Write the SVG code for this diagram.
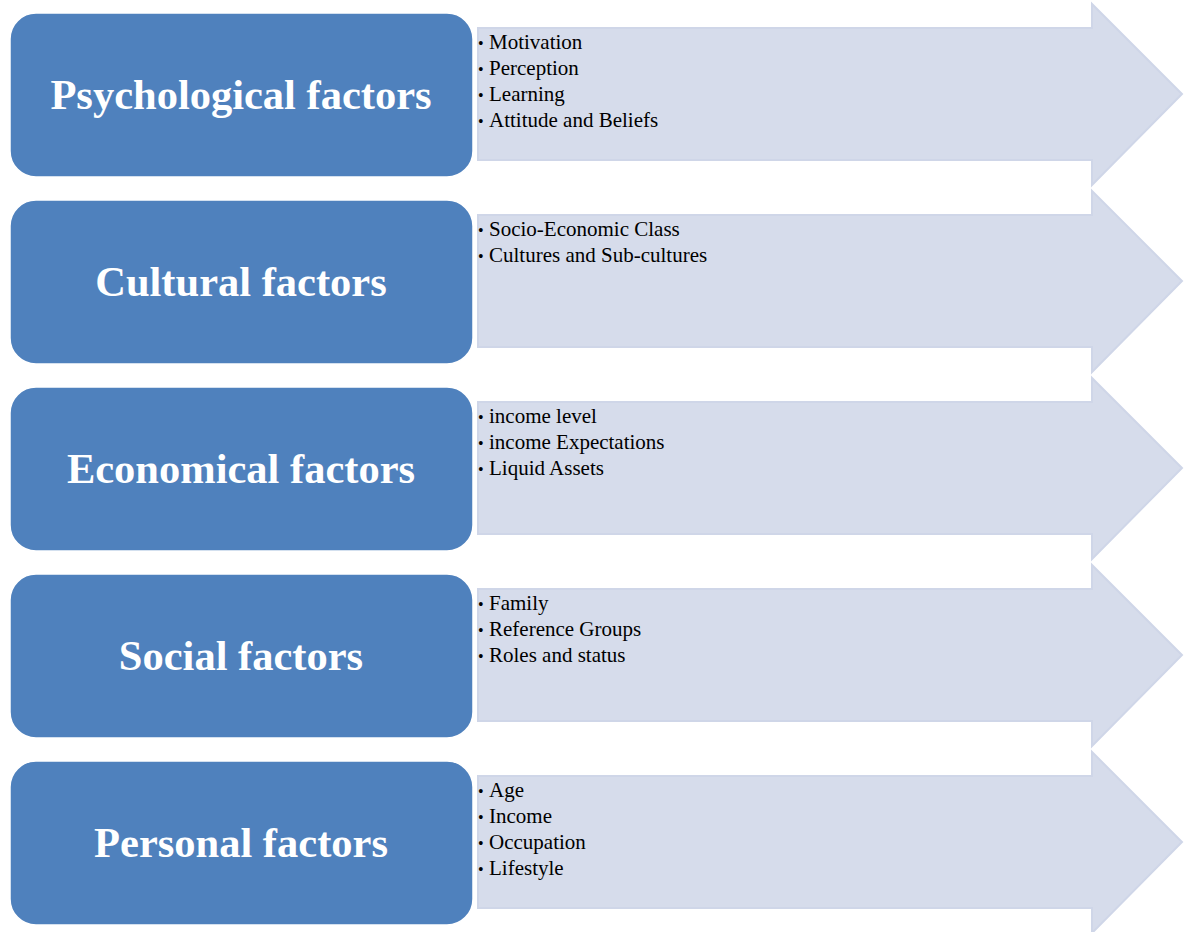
<svg xmlns="http://www.w3.org/2000/svg" width="1190" height="932" viewBox="0 0 1190 932">
<defs>
<style>
.arrow{fill:#d6dceb;stroke:#cfd6e8;stroke-width:2}
.box{fill:#4f81bd;stroke:#ffffff;stroke-width:1.5}
.title{font-family:"Liberation Serif",serif;font-weight:bold;font-size:42.5px;fill:#ffffff;text-anchor:middle}
.item{font-family:"Liberation Serif",serif;font-size:21px;fill:#000000}
.b{font-size:16px}
</style>
<path id="arr" d="M0,24 H614 V0 L704,90 L614,181 V156 H0 Z"/>
</defs>
<rect width="1190" height="932" fill="#ffffff"/>
<g id="connectors"></g>
<g id="row1">
<use href="#arr" class="arrow" x="478" y="4"/>
<rect class="box" x="10" y="13" width="463" height="164" rx="26"/>
<text class="title" x="241" y="109">Psychological factors</text>
<text class="item" y="49"><tspan class="b" x="478">•</tspan><tspan x="489">Motivation</tspan></text>
<text class="item" y="75"><tspan class="b" x="478">•</tspan><tspan x="489">Perception</tspan></text>
<text class="item" y="101"><tspan class="b" x="478">•</tspan><tspan x="489">Learning</tspan></text>
<text class="item" y="127"><tspan class="b" x="478">•</tspan><tspan x="489">Attitude and Beliefs</tspan></text>
</g>
<g id="row2">
<use href="#arr" class="arrow" x="478" y="191"/>
<rect class="box" x="10" y="200" width="463" height="164" rx="26"/>
<text class="title" x="241" y="296">Cultural factors</text>
<text class="item" y="236"><tspan class="b" x="478">•</tspan><tspan x="489">Socio-Economic Class</tspan></text>
<text class="item" y="262"><tspan class="b" x="478">•</tspan><tspan x="489">Cultures and Sub-cultures</tspan></text>
</g>
<g id="row3">
<use href="#arr" class="arrow" x="478" y="378"/>
<rect class="box" x="10" y="387" width="463" height="164" rx="26"/>
<text class="title" x="241" y="483">Economical factors</text>
<text class="item" y="423"><tspan class="b" x="478">•</tspan><tspan x="489">income level</tspan></text>
<text class="item" y="449"><tspan class="b" x="478">•</tspan><tspan x="489">income Expectations</tspan></text>
<text class="item" y="475"><tspan class="b" x="478">•</tspan><tspan x="489">Liquid Assets</tspan></text>
</g>
<g id="row4">
<use href="#arr" class="arrow" x="478" y="565"/>
<rect class="box" x="10" y="574" width="463" height="164" rx="26"/>
<text class="title" x="241" y="670">Social factors</text>
<text class="item" y="610"><tspan class="b" x="478">•</tspan><tspan x="489">Family</tspan></text>
<text class="item" y="636"><tspan class="b" x="478">•</tspan><tspan x="489">Reference Groups</tspan></text>
<text class="item" y="662"><tspan class="b" x="478">•</tspan><tspan x="489">Roles and status</tspan></text>
</g>
<g id="row5">
<use href="#arr" class="arrow" x="478" y="752"/>
<rect class="box" x="10" y="761" width="463" height="164" rx="26"/>
<text class="title" x="241" y="857">Personal factors</text>
<text class="item" y="797"><tspan class="b" x="478">•</tspan><tspan x="489">Age</tspan></text>
<text class="item" y="823"><tspan class="b" x="478">•</tspan><tspan x="489">Income</tspan></text>
<text class="item" y="849"><tspan class="b" x="478">•</tspan><tspan x="489">Occupation</tspan></text>
<text class="item" y="875"><tspan class="b" x="478">•</tspan><tspan x="489">Lifestyle</tspan></text>
</g>
</svg>
